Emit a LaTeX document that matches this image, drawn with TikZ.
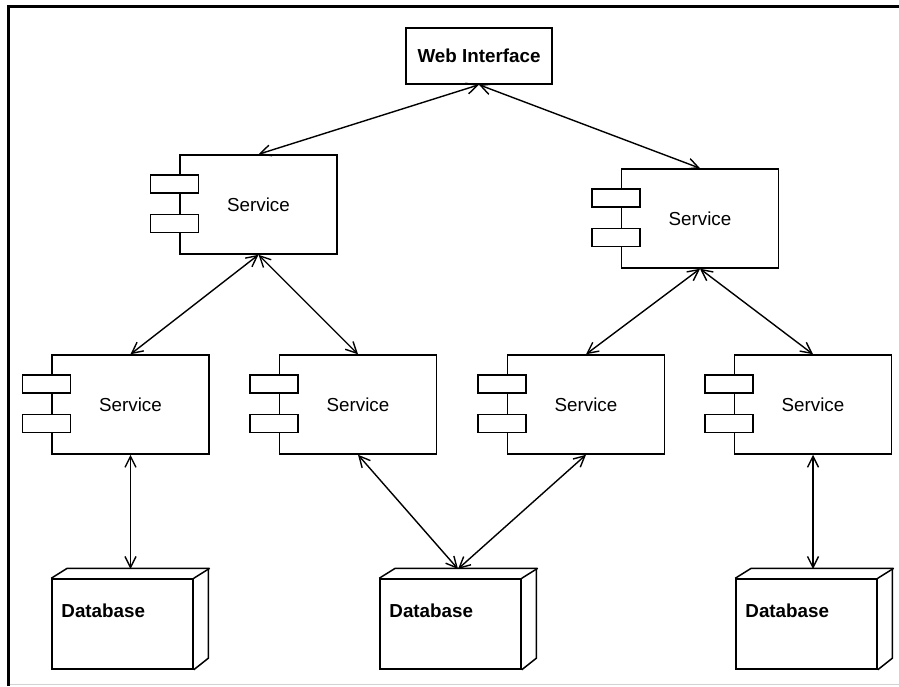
\documentclass[tikz,border=0pt]{standalone}
\usepackage{fontspec}
\setmainfont{Liberation Sans}
\usetikzlibrary{arrows.meta,calc}
\begin{document}
\begin{tikzpicture}[x=1pt,y=-1pt,
  box/.style={draw,line width=1.5pt,fill=white,inner sep=0pt},
  svc/.style={box,minimum width=157pt,minimum height=99pt,font=\fontsize{18.8}{22}\selectfont},
  tab/.style={box,minimum width=48pt,minimum height=18pt},
  dbf/.style={box,minimum width=141pt,minimum height=90pt},
  dbside/.style={line width=1.5pt,line join=miter},
  lbl/.style={font=\bfseries\fontsize{18.8}{22}\selectfont,inner sep=0pt,anchor=west},
  link/.style={line width=1.4pt,{Straight Barb[length=11pt,width=11pt]}-{Straight Barb[length=11pt,width=11pt]}},
]
\fill[white] (0,0) rectangle (899,686);
\useasboundingbox (0,0) rectangle (899,686);

% frame
\draw[line width=3pt] (8,686) -- (8,6) -- (899,6);
\draw[gray!35,line width=1pt] (9.5,684.5) -- (899,684.5);

% web interface
\node[box,minimum width=146pt,minimum height=56pt,font=\bfseries\fontsize{18.8}{22}\selectfont] (web) at (479,56) {Web Interface};

% services
\node[svc] (s0) at (258.5,204.5) {Service};
\node[svc] (s5) at (700,218.5) {Service};
\node[svc] (s1) at (130.5,404.5) {Service};
\node[svc] (s2) at (358,404.5) {Service};
\node[svc] (s3) at (586,404.5) {Service};
\node[svc] (s4) at (813,404.5) {Service};
\foreach \s in {s0,s5,s1,s2,s3,s4}{
  \node[tab] (\s a) at ($(\s.north west)+(-5,29.5)$) {};
  \node[tab] (\s b) at ($(\s.north west)+(-5,69)$) {};
}

% databases
\node[dbf] (d1) at (122.5,624) {};
\node[dbf] (d2) at (450.5,624) {};
\node[dbf] (d3) at (806.5,624) {};
\foreach \d in {d1,d2,d3}{
  \draw[dbside] (\d.north west) -- ++(16,-10) -- ++(141,0) -- ++(0,90) -- (\d.south east);
  \draw[dbside] (\d.north east) -- ++(16,-10);
  \node[lbl] (\d l) at ($(\d.north west)+(10,33)$) {Database};
}
\coordinate (d1t) at (130,569);
\coordinate (d2t) at (458,569);
\coordinate (d3t) at (815,569);

% connectors
\draw[link] (web.south) -- (s0.north);
\draw[link] (web.south) -- (s5.north);
\draw[link] (s0.south) -- (s1.north);
\draw[link] (s0.south) -- (s2.north);
\draw[link] (s5.south) -- (s3.north);
\draw[link] (s5.south) -- (s4.north);
\draw[link] (s1.south) -- (s1.south |- d1t);
\draw[link] (s2.south) -- (d2t);
\draw[link] (s3.south) -- (d2t);
\draw[link] (s4.south) -- (s4.south |- d3t);
\end{tikzpicture}
\end{document}
